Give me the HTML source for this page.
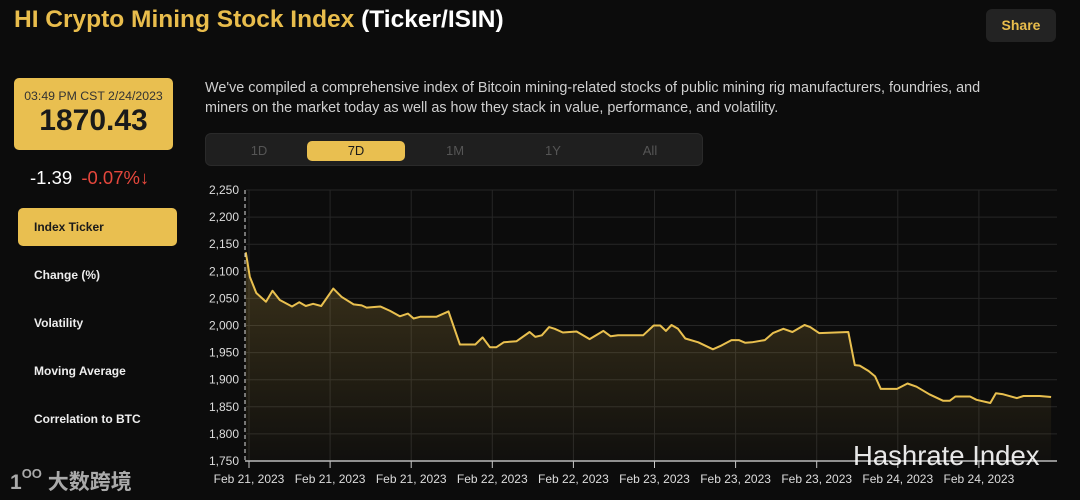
<!DOCTYPE html>
<html><head><meta charset="utf-8"><style>
*{margin:0;padding:0;box-sizing:border-box}
body{width:1080px;height:500px;background:#0c0c0c;font-family:"Liberation Sans","Noto Sans CJK SC",sans-serif;position:relative;overflow:hidden;color:#fff}
.abs{position:absolute}
.title{left:14px;top:6px;font-size:24.5px;font-weight:bold;color:#e9bd4c;white-space:nowrap}
.title span{color:#fff}
.share{left:986px;top:9px;width:70px;height:33px;background:#232323;border-radius:6px;color:#e9bd4c;font-weight:bold;font-size:14px;text-align:center;line-height:33px}
.pricebox{left:14px;top:78px;width:159px;height:72px;background:#e9bf50;border-radius:5px;color:#1a1a1a;text-align:center}
.pricebox .t{font-size:12.3px;margin-top:11px;color:#333}
.pricebox .p{font-size:30px;font-weight:bold;margin-top:1px}
.chg{left:30px;top:167px;font-size:18.5px;white-space:nowrap}
.chg span{color:#e5473c;margin-left:4px}
.menu{left:34px;font-size:12px;font-weight:bold;color:#eee}
.active{left:18px;top:208px;width:159px;height:38px;background:#e9bf50;border-radius:5px;color:#1a1a1a;font-size:12px;font-weight:bold;padding-left:16px;line-height:38px}
.desc{left:205px;top:78px;width:812px;font-size:14.4px;line-height:20px;color:#cfcfcf}
.tabs{left:205px;top:133px;width:498px;height:33px;background:#1f1f1f;border-radius:6px;border:1px solid #2a2a2a}
.tab{position:absolute;top:7px;width:98px;height:20px;line-height:20px;text-align:center;font-size:13px;color:#555}
.tab.on{background:#e9bf50;color:#1a1a1a;border-radius:5px}
</style></head><body>
<div class="abs title">HI Crypto Mining Stock Index <span>(Ticker/ISIN)</span></div>
<div class="abs share">Share</div>
<div class="abs pricebox"><div class="t">03:49 PM CST 2/24/2023</div><div class="p">1870.43</div></div>
<div class="abs chg">-1.39 <span>-0.07%↓</span></div>
<div class="abs active">Index Ticker</div>
<div class="abs menu" style="top:268px">Change (%)</div>
<div class="abs menu" style="top:316px">Volatility</div>
<div class="abs menu" style="top:364px">Moving Average</div>
<div class="abs menu" style="top:412px">Correlation to BTC</div>
<div class="abs" style="left:10px;top:466px;font-size:21px;color:#aaa;font-weight:bold">1<span style="font-size:13px;vertical-align:top">OO</span> 大数跨境</div>
<div class="abs desc">We've compiled a comprehensive index of Bitcoin mining-related stocks of public mining rig manufacturers, foundries, and miners on the market today as well as how they stack in value, performance, and volatility.</div>
<div class="abs tabs">
<div class="tab" style="left:4px">1D</div>
<div class="tab on" style="left:101px">7D</div>
<div class="tab" style="left:200px">1M</div>
<div class="tab" style="left:298px">1Y</div>
<div class="tab" style="left:395px">All</div>
</div>
<svg class="abs" style="left:0;top:0" width="1080" height="500">
<defs><linearGradient id="fg" x1="0" y1="0" x2="0" y2="1"><stop offset="0" stop-color="#e9bf50" stop-opacity="0.22"/><stop offset="1" stop-color="#e9bf50" stop-opacity="0.02"/></linearGradient></defs>
<g id="grid"></g><g id="area"></g><g id="axes"></g>
<text x="853" y="465" font-size="27.5" fill="#fff" fill-opacity="0.9" font-family="Liberation Sans, sans-serif">Hashrate Index</text>
</svg>
<script>
const times=[-0.04,0.01,0.09,0.21,0.29,0.38,0.53,0.62,0.70,0.79,0.89,1.04,1.14,1.29,1.39,1.45,1.62,1.74,1.86,1.96,2.03,2.11,2.31,2.46,2.60,2.79,2.88,2.97,3.05,3.14,3.30,3.46,3.53,3.61,3.70,3.77,3.87,4.04,4.20,4.37,4.46,4.55,4.86,4.99,5.07,5.14,5.21,5.29,5.38,5.54,5.72,5.81,5.95,6.04,6.12,6.20,6.36,6.46,6.59,6.70,6.85,6.92,7.03,7.39,7.47,7.53,7.64,7.72,7.79,7.99,8.12,8.23,8.39,8.56,8.64,8.71,8.89,8.97,9.14,9.21,9.30,9.47,9.55,9.75,9.89];
const values=[2135,2090,2060,2044,2064,2047,2035,2043,2036,2040,2036,2068,2053,2039,2037,2033,2035,2027,2017,2022,2013,2016,2016,2026,1965,1965,1978,1960,1960,1969,1971,1988,1979,1982,1997,1994,1987,1989,1975,1990,1980,1982,1982,2000,2000,1990,2001,1994,1976,1969,1956,1962,1973,1973,1968,1969,1973,1986,1994,1988,2001,1997,1986,1988,1927,1926,1916,1906,1883,1883,1893,1887,1873,1861,1861,1869,1869,1863,1857,1875,1873,1866,1870,1870,1868];
const yTicks=[1750,1800,1850,1900,1950,2000,2050,2100,2150,2200,2250];
const xTickLabels=["Feb 21, 2023","Feb 21, 2023","Feb 21, 2023","Feb 22, 2023","Feb 22, 2023","Feb 23, 2023","Feb 23, 2023","Feb 23, 2023","Feb 24, 2023","Feb 24, 2023"];
const NS="http://www.w3.org/2000/svg";
const L=246,R=1057,T=190,B=461;
const xs=t=>249+t*81.1;
const ys=v=>B-(v-1750)/500*(B-T);
function mk(tag,attrs,parent){const e=document.createElementNS(NS,tag);for(const k in attrs)e.setAttribute(k,attrs[k]);parent.appendChild(e);return e;}
const grid=document.getElementById('grid'),axes=document.getElementById('axes'),area=document.getElementById('area');
yTicks.forEach(v=>{
 const l=mk('line',{x1:L,x2:R,y1:ys(v),y2:ys(v),stroke:'#262626','stroke-width':1},grid);
 
 
 const t=mk('text',{x:239,y:ys(v)+4,'text-anchor':'end','font-size':12,fill:'#ddd'},axes);
 t.textContent=v.toLocaleString('en-US');
 
 
});
xTickLabels.forEach((s,i)=>{
 const x=xs(i);
 const g=mk('line',{x1:x,x2:x,y1:T,y2:B,stroke:'#262626','stroke-width':1},grid);
 
 
 const tk=mk('line',{x1:x,x2:x,y1:B,y2:B+7,stroke:'#ccc','stroke-width':1},axes);
 
 
 const t=mk('text',{x:x,y:483,'text-anchor':'middle','font-size':12,fill:'#ddd'},axes);
 t.textContent=s;
 
 
});
const ya=mk('line',{x1:245,x2:245,y1:T,y2:B,stroke:'#ddd','stroke-width':1,'stroke-dasharray':'4,3'},axes);


const xa=mk('line',{x1:245,x2:R,y1:B,y2:B,stroke:'#bbb','stroke-width':1.5},axes);


const pts=times.map((t,i)=>xs(t).toFixed(1)+','+ys(values[i]).toFixed(1));
const fill=mk('path',{d:'M'+xs(times[0])+','+B+' L'+pts.join(' L')+' L'+xs(times[times.length-1])+','+B+' Z',fill:'url(#fg)'},area);


const line=mk('path',{d:'M'+pts.join(' L'),fill:'none',stroke:'#e9c04f','stroke-width':2,'stroke-linejoin':'round'},area);


</script>
</body></html>
